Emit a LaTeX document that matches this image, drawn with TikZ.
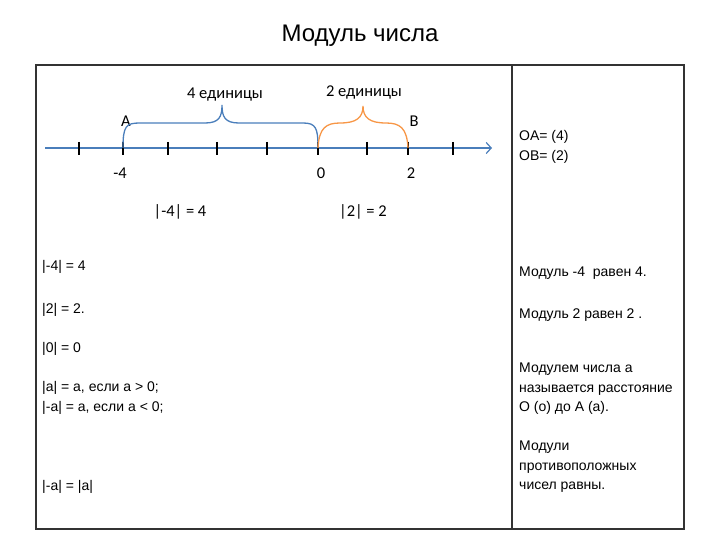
\documentclass[tikz,border=0pt]{standalone}
\usepackage{fontspec}
\setmainfont{Liberation Sans}
\newfontfamily\carlito{Carlito}
\usetikzlibrary{arrows.meta}
\definecolor{axisblue}{HTML}{4A7EBB}
\definecolor{braceorange}{HTML}{F79646}
\definecolor{framegray}{HTML}{333333}

\begin{document}
\begin{tikzpicture}[
    x=1pt, y=-1pt,
    >={Straight Barb[length=5pt,width=11pt]},
    every node/.style={inner sep=0pt},
    coltext/.style={anchor=west, font=\fontsize{14}{19.5}\selectfont, align=left},
    axislabel/.style={font=\carlito\fontsize{16.5}{19}\selectfont},
    tickmark/.style={line width=2.8pt, black}
]
\useasboundingbox (0,0) rectangle (720,540);

% Title
\node (title) at (360,36) {\fontsize{24}{28}\selectfont Модуль числа};

% Table
\draw[line width=2.4pt, framegray] (36,65) rectangle (684,529);
\draw[line width=1.2pt, framegray] (512,65) -- (512,529);

% Number line
\coordinate (start) at (45,148);
\coordinate (end) at (492,148);
\draw[->, axisblue, line width=1.2pt] (start) -- (end);
\foreach \x [count=\i] in {79,123,168,217,267,318,367,408,453} {
    \coordinate (t\i) at (\x,148);
    \draw[tickmark] (\x,142) -- (\x,155);
}

% Points
\node[axislabel] (m4) at (120,173) {-4};
\node[axislabel] (zero) at (321,173) {0};
\node[axislabel] (two) at (411,173) {2};
\node[axislabel] (A) at (126,121) {A};
\node[axislabel] (B) at (414,121) {B};

% Braces
\coordinate (peakA) at (222,105);
\coordinate (peakB) at (363,106);
\draw[axisblue, line width=1.3pt] (t2) .. controls (123,126) and (126,123) .. (140,123)
    -- (205,123) .. controls (219,123) and (222,117) .. (peakA)
    .. controls (222,117) and (225,123) .. (239,123)
    -- (303,123) .. controls (316,123) and (318,128) .. (t6);
\draw[braceorange, line width=1.3pt] (t6) .. controls (319,128) and (326,123) .. (340,123)
    .. controls (356,123) and (363,118) .. (peakB)
    .. controls (363,118) and (370,123) .. (386,123)
    .. controls (400,123) and (407,128) .. (t8);
\node[axislabel] (four) at (225,95) {4 единицы};
\node[axislabel] (twou) at (364,93) {2 единицы};

% Moduli under the line
\node[axislabel] (absm4) at (180,212) {|-4| = 4};
\node[axislabel] (abs2) at (363,212) {|2| = 2};

% Left column
\node[coltext] (l1) at (42,267) {|-4| = 4};
\node[coltext] (l2) at (42,310) {|2| = 2.};
\node[coltext] (l3) at (42,349) {|0| = 0};
\node[coltext] (l4) at (42,388) {|a| = a, если a > 0;};
\node[coltext] (l5) at (42,408) {|-a| = a, если a < 0;};
\node[coltext] (l6) at (42,487) {|-a| = |a|};

% Right column
\node[coltext] (r1) at (519,137) {OA= (4)};
\node[coltext] (r2) at (519,157) {OB= (2)};
\node[coltext] (r3) at (519,273) {Модуль -4~ равен 4.};
\node[coltext] (r4) at (519,315) {Модуль 2 равен 2 .};
\node[coltext] (r5) at (519,389) {Модулем числа а\\называется расстояние\\О (о) до А (а).};
\node[coltext] (r6) at (519,467) {Модули\\противоположных\\чисел равны.};
\end{tikzpicture}
\end{document}
